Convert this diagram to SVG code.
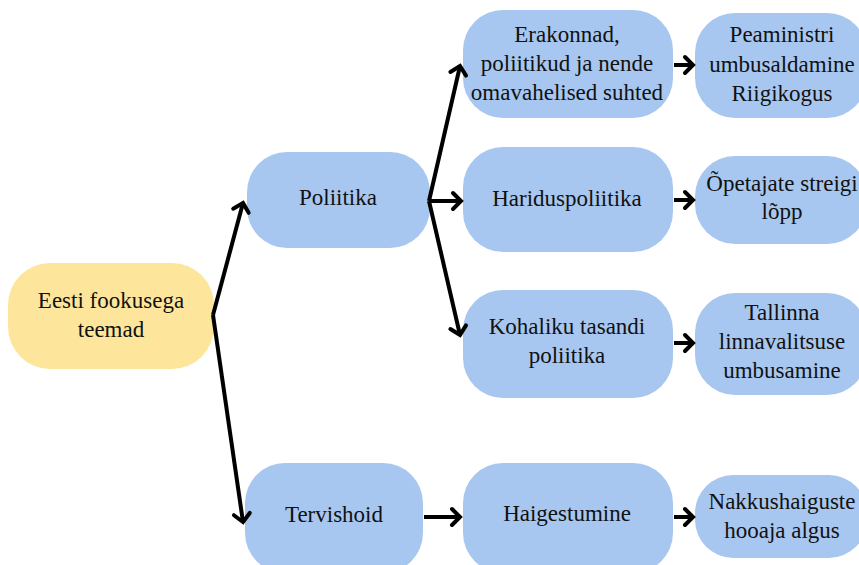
<svg xmlns="http://www.w3.org/2000/svg" width="859" height="565" viewBox="0 0 859 565">
<style>
.n rect{fill:#A8C7F0}
.root rect{fill:#FDE69C}
text{font-family:'Liberation Serif','Times New Roman',serif;font-size:23px;fill:#111;text-anchor:middle}
.c path{fill:none;stroke:#000;stroke-width:4;stroke-linejoin:miter}
</style>
<defs>
<marker id="a" markerUnits="userSpaceOnUse" markerWidth="22" markerHeight="22" refX="11" refY="11" orient="auto" viewBox="0 0 22 22">
<polyline points="3,3 11,11 3,19" fill="none" stroke="#000" stroke-width="4" stroke-linecap="round"/>
</marker>
</defs>
<rect width="859" height="565" fill="#fff"/>
<g id="root" class="root"><rect x="8" y="263" width="206" height="106" rx="42"/><text x="111" y="308">Eesti fookusega</text><text x="111" y="337">teemad</text></g>
<g id="poliitika" class="n"><rect x="247" y="152" width="183" height="96" rx="40"/><text x="338" y="205">Poliitika</text></g>
<g id="tervishoid" class="n"><rect x="245" y="463" width="178" height="110" rx="40"/><text x="334" y="522">Tervishoid</text></g>
<g id="erakonnad" class="n"><rect x="463" y="10" width="210" height="108" rx="40"/><text x="567" y="42">Erakonnad,</text><text x="567" y="71">poliitikud ja nende</text><text x="567" y="100">omavahelised suhted</text></g>
<g id="haridus" class="n"><rect x="463" y="147" width="210" height="105" rx="40"/><text x="567" y="206">Hariduspoliitika</text></g>
<g id="kohaliku" class="n"><rect x="463" y="290" width="210" height="108" rx="40"/><text x="567" y="334">Kohaliku tasandi</text><text x="567" y="363">poliitika</text></g>
<g id="haigestumine" class="n"><rect x="463" y="463" width="210" height="110" rx="40"/><text x="567" y="521">Haigestumine</text></g>
<g id="peaministri" class="n"><rect x="695" y="13" width="172" height="105" rx="40"/><text x="782" y="42">Peaministri</text><text x="782" y="72">umbusaldamine</text><text x="782" y="101">Riigikogus</text></g>
<g id="opetajate" class="n"><rect x="695" y="156" width="172" height="88" rx="40"/><text x="782" y="191">Õpetajate streigi</text><text x="782" y="219">lõpp</text></g>
<g id="tallinna" class="n"><rect x="695" y="293" width="172" height="102" rx="40"/><text x="782" y="320">Tallinna</text><text x="782" y="349">linnavalitsuse</text><text x="782" y="378">umbusamine</text></g>
<g id="nakkus" class="n"><rect x="695" y="475" width="172" height="83" rx="38"/><text x="782" y="509">Nakkushaiguste</text><text x="782" y="538">hooaja algus</text></g>
<g id="connectors" class="c">
<path d="M213,315 L243,203" marker-end="url(#a)"/>
<path d="M213,315 L243,522" marker-end="url(#a)"/>
<path d="M429,201 L460,66" marker-end="url(#a)"/>
<path d="M429,201 L461,201" marker-end="url(#a)"/>
<path d="M429,201 L460,335" marker-end="url(#a)"/>
<path d="M424,517 L460,517" marker-end="url(#a)"/>
<path d="M674,65 L693,65" marker-end="url(#a)"/>
<path d="M674,200 L693,200" marker-end="url(#a)"/>
<path d="M674,343 L693,343" marker-end="url(#a)"/>
<path d="M674,517 L693,517" marker-end="url(#a)"/>
</g>
</svg>
